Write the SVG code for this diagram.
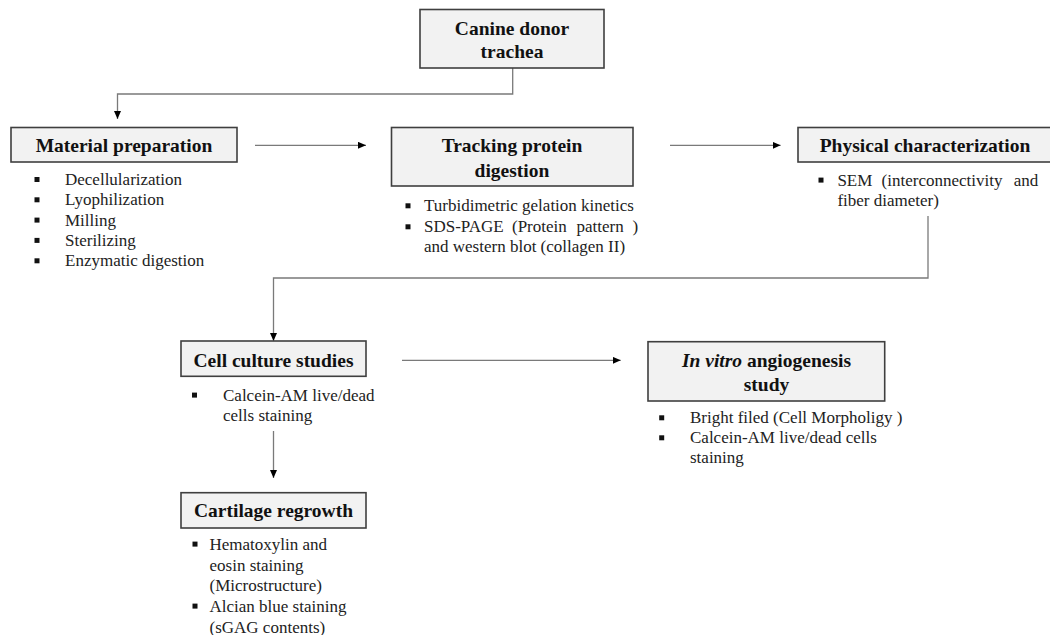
<svg xmlns="http://www.w3.org/2000/svg" width="1050" height="635" viewBox="0 0 1050 635">
<style>
.box{fill:#f2f2f2;stroke:#3f3f3f;stroke-width:1.6}
.t{font-family:"Liberation Serif","Times New Roman",serif;font-weight:bold;font-size:19.5px;fill:#111;text-anchor:middle}
.b{font-family:"Liberation Serif","Times New Roman",serif;font-size:17px;fill:#222}
.bl{fill:#111}
.c{fill:none;stroke:#7a7a7a;stroke-width:1.3}
</style>
<defs>
<marker id="ah" markerUnits="userSpaceOnUse" markerWidth="9" markerHeight="8" refX="8" refY="3.5" orient="auto">
<path d="M0,0 L8,3.5 L0,7 z" fill="#000"/>
</marker>
</defs>
<rect width="1050" height="635" fill="#fff"/>
<g id="connectors">
<path class="c" d="M512.7,68 V94 H117.5 V119" marker-end="url(#ah)"/>
<path class="c" d="M255,145.3 H366" marker-end="url(#ah)"/>
<path class="c" d="M670,145.3 H780.6" marker-end="url(#ah)"/>
<path class="c" d="M928,216 V278 H273.5 V341" marker-end="url(#ah)"/>
<path class="c" d="M402,360.3 H620.7" marker-end="url(#ah)"/>
<path class="c" d="M273.5,431 V478" marker-end="url(#ah)"/>
</g>
<g id="canine">
<rect class="box" x="420" y="9.5" width="184" height="58.5"/>
<text class="t" x="512" y="34.8">Canine donor</text>
<text class="t" x="512" y="58.2">trachea</text>
</g>
<g id="material">
<rect class="box" x="11" y="127.5" width="226" height="34.5"/>
<text class="t" x="124" y="152.2">Material preparation</text>
<rect class="bl" x="34.5" y="177" width="5" height="5"/>
<rect class="bl" x="34.5" y="197.3" width="5" height="5"/>
<rect class="bl" x="34.5" y="217.6" width="5" height="5"/>
<rect class="bl" x="34.5" y="237.9" width="5" height="5"/>
<rect class="bl" x="34.5" y="258.3" width="5" height="5"/>
<text class="b" x="65" y="185">Decellularization</text>
<text class="b" x="65" y="205.3">Lyophilization</text>
<text class="b" x="65" y="225.6">Milling</text>
<text class="b" x="65" y="245.9">Sterilizing</text>
<text class="b" x="65" y="266.3">Enzymatic digestion</text>
</g>
<g id="tracking">
<rect class="box" x="391.5" y="127.5" width="241.5" height="58.5"/>
<text class="t" x="512" y="152.2">Tracking protein</text>
<text class="t" x="512" y="176.5">digestion</text>
<rect class="bl" x="405.5" y="203.3" width="5" height="5"/>
<rect class="bl" x="405.5" y="224.3" width="5" height="5"/>
<text class="b" x="424" y="211.3">Turbidimetric gelation kinetics</text>
<text class="b" x="424" y="232.3">SDS-PAGE</text>
<text class="b" x="512" y="232.3">(Protein</text>
<text class="b" x="576.5" y="232.3">pattern</text>
<text class="b" x="632.5" y="232.3">)</text>
<text class="b" x="424" y="252.3">and western blot (collagen II)</text>
</g>
<g id="physical">
<rect class="box" x="798" y="127.5" width="254" height="34.5"/>
<text class="t" x="925" y="152.2">Physical characterization</text>
<rect class="bl" x="818.5" y="177.6" width="5" height="5"/>
<text class="b" x="837.4" y="185.6">SEM</text>
<text class="b" x="881.6" y="185.6">(interconnectivity</text>
<text class="b" x="1013.8" y="185.6">and</text>
<text class="b" x="837.4" y="205.6">fiber diameter)</text>
</g>
<g id="cellculture">
<rect class="box" x="181" y="341" width="185" height="35.3"/>
<text class="t" x="273.5" y="366.5">Cell culture studies</text>
<rect class="bl" x="192" y="392.6" width="5" height="5"/>
<text class="b" x="223" y="400.6">Calcein-AM live/dead</text>
<text class="b" x="223" y="421.3">cells staining</text>
</g>
<g id="invitro">
<rect class="box" x="648" y="341.7" width="236.7" height="59.3"/>
<text class="t" x="766.5" y="367.2"><tspan font-style="italic">In vitro</tspan> angiogenesis</text>
<text class="t" x="766.5" y="390.5">study</text>
<rect class="bl" x="659.2" y="415.3" width="5" height="5"/>
<rect class="bl" x="659.2" y="435.3" width="5" height="5"/>
<text class="b" x="690" y="423.3">Bright filed (Cell Morpholigy )</text>
<text class="b" x="690" y="443.3">Calcein-AM live/dead cells</text>
<text class="b" x="690" y="463.3">staining</text>
</g>
<g id="cartilage">
<rect class="box" x="181" y="492.7" width="185" height="35.3"/>
<text class="t" x="273.5" y="517.2">Cartilage regrowth</text>
<rect class="bl" x="192.5" y="541.6" width="5" height="5"/>
<rect class="bl" x="192.5" y="603.6" width="5" height="5"/>
<text class="b" x="209.5" y="549.6">Hematoxylin and</text>
<text class="b" x="209.5" y="570.6">eosin staining</text>
<text class="b" x="209.5" y="591.3">(Microstructure)</text>
<text class="b" x="209.5" y="611.6">Alcian blue staining</text>
<text class="b" x="209.5" y="632.6">(sGAG contents)</text>
</g>
</svg>
